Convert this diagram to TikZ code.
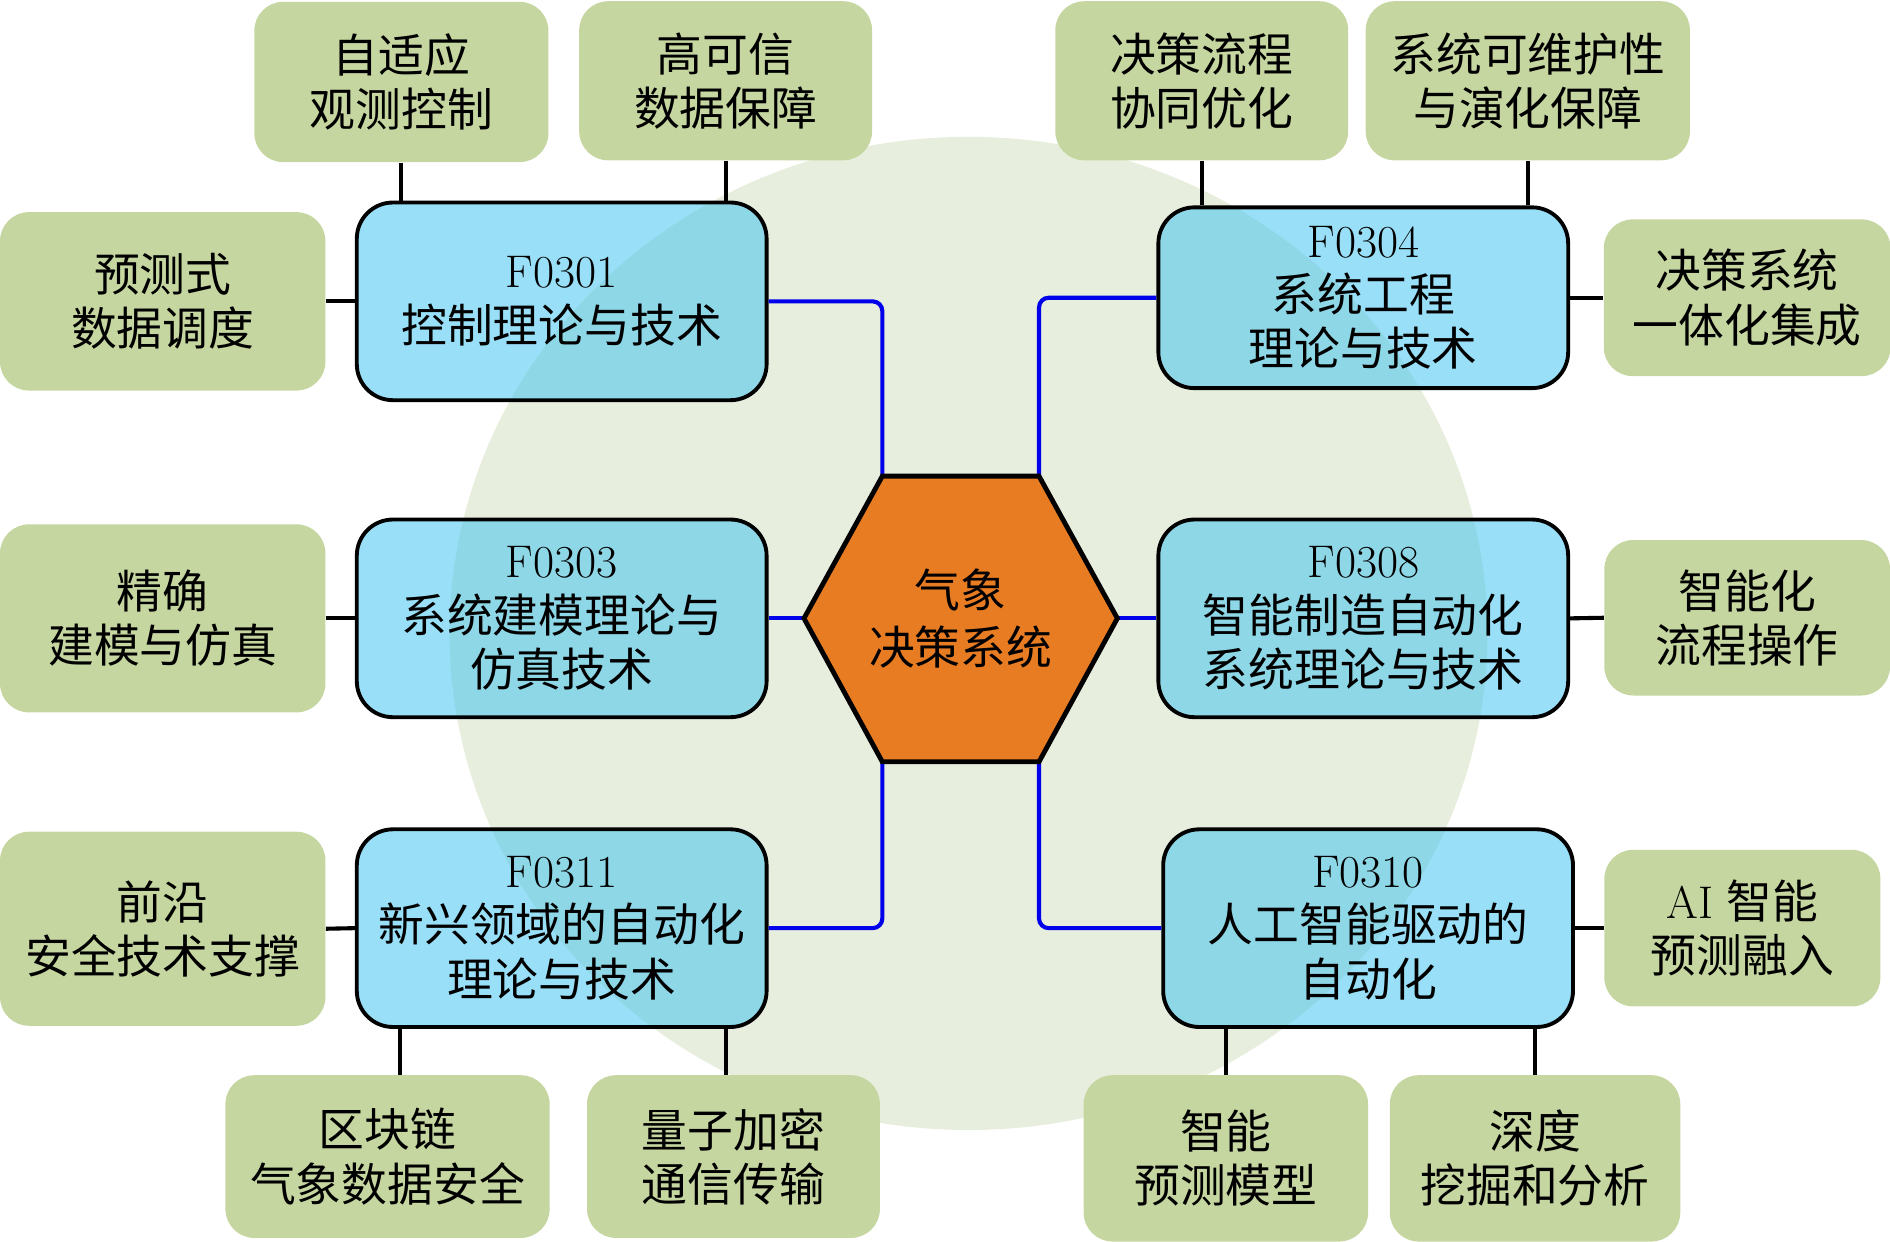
\documentclass[tikz,border=0pt]{standalone}
\usepackage{fontspec}
\usepackage{tikz}
\newfontfamily\cjkfont{Noto Sans CJK SC}
\newcommand{\zh}[1]{{\cjkfont #1}}
\definecolor{leafgreen}{RGB}{197,214,160}
\definecolor{topicblue}{RGB}{69,197,240}
\definecolor{halo}{RGB}{232,238,222}
\definecolor{hubor}{RGB}{232,124,34}
\definecolor{spokeblue}{RGB}{0,0,235}
\tikzset{
  topic/.style={draw=black, line width=1.6pt, fill=topicblue, fill opacity=0.55, text opacity=1, rounded corners=15pt, align=center, minimum width=170pt, minimum height=82pt, inner sep=0pt, font=\fontsize{19}{22.5}\selectfont},
  leaf/.style={fill=leafgreen, rounded corners=12pt, align=center, inner sep=0pt, font=\fontsize{19}{22.5}\selectfont},
  tie/.style={line width=1.7pt},
  spoke/.style={draw=spokeblue, line width=1.7pt, rounded corners=4pt},
}
\begin{document}
\begin{tikzpicture}[x=0.5pt,y=0.5pt,yscale=-1,xscale=1]
\useasboundingbox (0,0) rectangle (1568,1030);
\fill[halo] (803.5,525.5) ellipse (430.5 and 412);
% hexagon corners
\coordinate (hx1) at (667,513);
\coordinate (hx2) at (732,395);
\coordinate (hx3) at (862,395);
\coordinate (hx4) at (927,513);
\coordinate (hx5) at (862,632);
\coordinate (hx6) at (732,632);
% topics
\node[topic] (f0301) at (466,250) {F0301\\\zh{控制理论与技术}};
\node[topic] (f0303) at (466,513) {F0303\\\zh{系统建模理论与}\\\zh{仿真技术}};
\node[topic] (f0311) at (466,770) {F0311\\\zh{新兴领域的自动化}\\\zh{理论与技术}};
\node[topic, minimum height=75pt] (f0304) at (1131,247) {F0304\\\zh{系统工程}\\\zh{理论与技术}};
\node[topic] (f0308) at (1131,513) {F0308\\\zh{智能制造自动化}\\\zh{系统理论与技术}};
\node[topic] (f0310) at (1135,770) {F0310\\\zh{人工智能驱动的}\\\zh{自动化}};
% leaves
\node[leaf, minimum width=122pt, minimum height=66.5pt] (g1) at (333,68) {\zh{自适应}\\\zh{观测控制}};
\node[leaf, minimum width=121.5pt, minimum height=66pt] (g2) at (602,67) {\zh{高可信}\\\zh{数据保障}};
\node[leaf, minimum width=135pt, minimum height=74pt] (g3) at (135,250) {\zh{预测式}\\\zh{数据调度}};
\node[leaf, minimum width=121.5pt, minimum height=66pt] (g4) at (997,67) {\zh{决策流程}\\\zh{协同优化}};
\node[leaf, minimum width=134.5pt, minimum height=66pt] (g5) at (1267.5,67) {\zh{系统可维护性}\\\zh{与演化保障}};
\node[leaf, minimum width=119pt, minimum height=65pt] (g6) at (1449.5,247) {\zh{决策系统}\\\zh{一体化集成}};
\node[leaf, minimum width=135pt, minimum height=78pt] (g7) at (135,513) {\zh{精确}\\\zh{建模与仿真}};
\node[leaf, minimum width=118.5pt, minimum height=64.5pt] (g8) at (1449.5,512.5) {\zh{智能化}\\\zh{流程操作}};
\node[leaf, minimum width=135pt, minimum height=80.5pt] (g9) at (135,770.5) {\zh{前沿}\\\zh{安全技术支撑}};
\node[leaf, minimum width=114.5pt, minimum height=65pt] (g10) at (1445.5,770) {AI \zh{智能}\\\zh{预测融入}};
\node[leaf, minimum width=134.5pt, minimum height=67.5pt] (g11) at (321.5,959.5) {\zh{区块链}\\\zh{气象数据安全}};
\node[leaf, minimum width=121.5pt, minimum height=67.5pt] (g12) at (608.5,959.5) {\zh{量子加密}\\\zh{通信传输}};
\node[leaf, minimum width=118pt, minimum height=69pt] (g13) at (1017,961) {\zh{智能}\\\zh{预测模型}};
\node[leaf, minimum width=120.5pt, minimum height=69pt] (g14) at (1273.5,961) {\zh{深度}\\\zh{挖掘和分析}};
% leaf ties
\draw[tie] (g1.south) -- (g1.south |- f0301.north);
\draw[tie] (g2.south) -- (g2.south |- f0301.north);
\draw[tie] (g3.east) -- (f0301.west);
\draw[tie] (g4.south) -- (g4.south |- f0304.north);
\draw[tie] (g5.south) -- (g5.south |- f0304.north);
\draw[tie] (f0304.east) -- (g6.west);
\draw[tie] (g7.east) -- (f0303.west);
\draw[tie] (f0308.east) -- (g8.west);
\draw[tie] (g9.east) -- (f0311.west);
\draw[tie] (f0310.east) -- (g10.west);
\draw[tie] ([xshift=5pt]g11.north) -- ([xshift=5pt]g11.north |- f0311.south);
\draw[tie] ([xshift=-3pt]g12.north) -- ([xshift=-3pt]g12.north |- f0311.south);
\draw[tie] (g13.north) -- (g13.north |- f0310.south);
\draw[tie] (g14.north) -- (g14.north |- f0310.south);
% spokes
\draw[spoke] (f0301.east) -| (hx2);
\draw[spoke] (f0304.west) -| (hx3);
\draw[spoke] (f0303.east) -- (hx1);
\draw[spoke] (hx4) -- (f0308.west);
\draw[spoke] (f0311.east) -| (hx6);
\draw[spoke] (f0310.west) -| (hx5);
% hub
\draw[line width=2pt, fill=hubor] (hx1) -- (hx2) -- (hx3) -- (hx4) -- (hx5) -- (hx6) -- cycle;
\node[align=center, font=\fontsize{19}{23.5}\selectfont] (hub) at (797,513) {\zh{气象}\\\zh{决策系统}};
\end{tikzpicture}
\end{document}
